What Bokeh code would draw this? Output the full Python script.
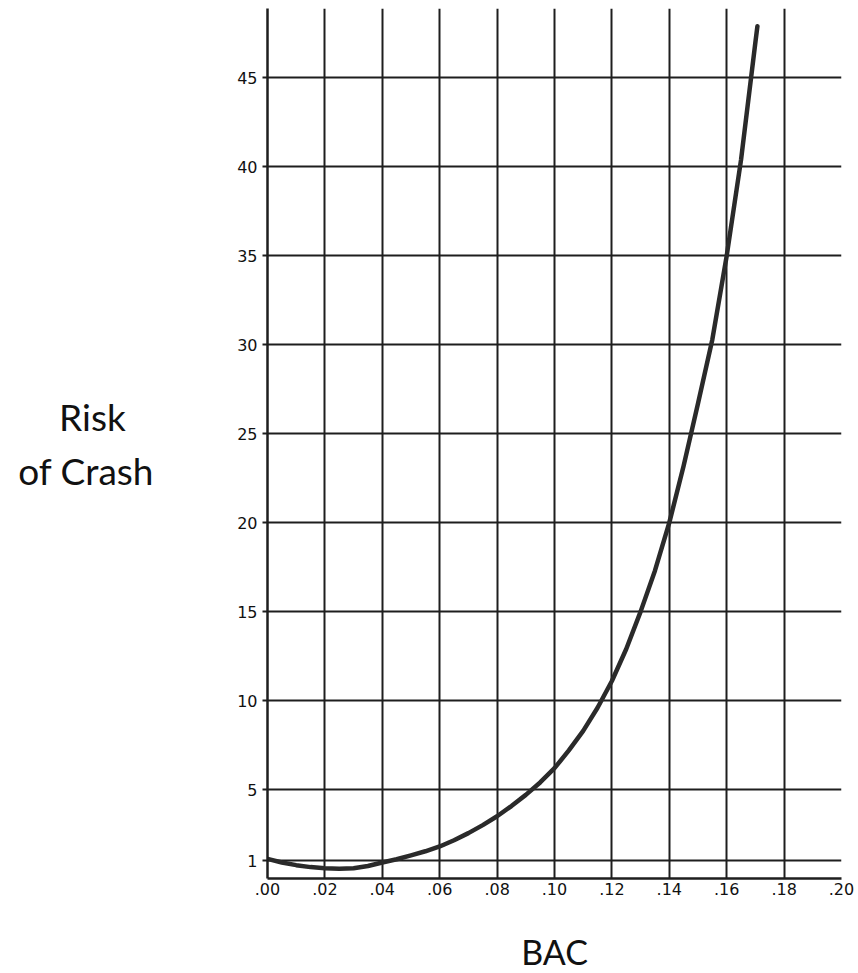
from bokeh.plotting import figure
from bokeh.models import FixedTicker, CustomJSTickFormatter, Range1d
from bokeh.embed import file_html
from bokeh.resources import INLINE

# Data
bac = [0.000, 0.005, 0.010, 0.015, 0.020, 0.025, 0.030, 0.035, 0.040, 0.045,
       0.050, 0.055, 0.060, 0.065, 0.070, 0.075, 0.080, 0.085, 0.090, 0.095,
       0.100, 0.105, 0.110, 0.115, 0.120, 0.125, 0.130, 0.135, 0.140, 0.145,
       0.150, 0.155, 0.160, 0.165, 0.170, 0.1707]
risk = [1.1, 0.9, 0.75, 0.64, 0.58, 0.55, 0.58, 0.7, 0.9, 1.08,
        1.3, 1.53, 1.8, 2.15, 2.55, 3.0, 3.5, 4.07, 4.7, 5.4,
        6.2, 7.2, 8.3, 9.6, 11.1, 12.9, 15.0, 17.3, 20.0, 23.2,
        26.7, 30.3, 35.0, 40.4, 47.0, 47.9]

x_ticks = [0.00, 0.02, 0.04, 0.06, 0.08, 0.10, 0.12, 0.14, 0.16, 0.18, 0.20]
x_grid = [0.02, 0.04, 0.06, 0.08, 0.10, 0.12, 0.14, 0.16, 0.18]
y_ticks = [1, 5, 10, 15, 20, 25, 30, 35, 40, 45]

LINE = "#1e1e1e"
NB = "\u00a0"

p = figure(frame_width=574, frame_height=870,
           min_border_left=267, min_border_right=17,
           min_border_top=8, min_border_bottom=90,
           x_range=Range1d(0, 0.2), y_range=Range1d(0, 48.9),
           output_backend="svg", toolbar_location=None)
p.outline_line_color = None
p.background_fill_color = "white"
p.border_fill_color = "white"

# grid
p.xgrid.ticker = FixedTicker(ticks=x_grid)
p.ygrid.ticker = FixedTicker(ticks=y_ticks)
for g in (p.xgrid, p.ygrid):
    g.grid_line_color = LINE
    g.grid_line_width = 2
    g.grid_line_alpha = 1.0

# x axis
xa = p.xaxis[0]
xa.ticker = FixedTicker(ticks=x_ticks)
xa.formatter = CustomJSTickFormatter(code="return tick.toFixed(2).replace(/^0/, '');")
xa.major_tick_out = 0
xa.major_tick_in = 0
xa.minor_tick_out = 0
xa.minor_tick_in = 0
xa.axis_line_color = LINE
xa.axis_line_width = 2.5
xa.major_label_standoff = 4
xa.major_label_text_font = "DejaVu Sans"
xa.major_label_text_font_size = "16px"
xa.major_label_text_color = "#111111"
xa.axis_label = "BAC"
xa.axis_label_text_font = "Lato"
xa.axis_label_text_font_style = "normal"
xa.axis_label_text_font_size = "34px"
xa.axis_label_text_color = "#111111"
xa.axis_label_standoff = 33

# y axis
ya = p.yaxis[0]
ya.ticker = FixedTicker(ticks=y_ticks)
ya.major_tick_out = 5
ya.major_tick_in = 0
ya.minor_tick_out = 0
ya.minor_tick_in = 0
ya.major_tick_line_color = LINE
ya.major_tick_line_width = 2
ya.axis_line_color = LINE
ya.axis_line_width = 2.5
ya.major_label_standoff = 5
ya.major_label_text_font = "DejaVu Sans"
ya.major_label_text_font_size = "16px"
ya.major_label_text_color = "#111111"
ya.axis_label = "Risk" + NB * 3 + "\nof Crash"
ya.axis_label_orientation = "horizontal"
ya.axis_label_text_font = "Lato"
ya.axis_label_text_font_style = "normal"
ya.axis_label_text_font_size = "37px"
ya.axis_label_text_color = "#111111"
ya.axis_label_standoff = 80

# curve
p.line(bac, risk, line_color="#2a2a2a", line_width=4.5,
       line_join="round", line_cap="round")

open("out.html", "w").write(file_html(p, INLINE))
